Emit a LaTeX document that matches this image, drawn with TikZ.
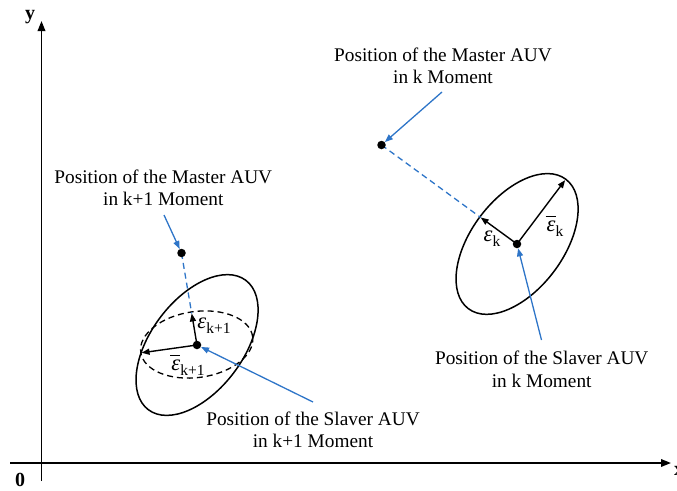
\documentclass[tikz,border=0pt]{standalone}
\usepackage{fontspec}
\setmainfont{Liberation Serif}
\usetikzlibrary{arrows.meta,calc}
\definecolor{auvblue}{RGB}{46,117,200}
\newcommand\epsit{{\itshape ε}}
\newcommand\epsbarit{\hbox{\itshape ε}\llap{\rule[0.62em]{0.44em}{0.07em}}}
\newcommand\subk[1]{\raisebox{-0.5ex}{\fontsize{15.5}{16}\selectfont #1}}
\begin{document}
\begin{tikzpicture}[x=1pt,y=1pt,
  every node/.style={font=\fontsize{19.3}{22.5}\selectfont},
  lbl/.style={align=center, inner sep=0pt},
  epslbl/.style={inner sep=0pt, font=\fontsize{22.5}{24}\selectfont},
  dotnode/.style={circle, fill=black, inner sep=0pt, minimum size=8.5pt},
  axisline/.style={line width=1.8pt, -{Triangle[length=10pt,width=7.5pt]}},
  bluearrow/.style={auvblue, line width=1.3pt, -{Triangle[length=8pt,width=6pt]}},
  bluedash/.style={auvblue, line width=1.3pt, dash pattern=on 6pt off 4pt},
  errarrow/.style={line width=1.4pt, -{Triangle[length=8pt,width=6pt]}},
  ell/.style={line width=1.5pt},
  dashell/.style={line width=1.3pt, dash pattern=on 6pt off 4pt},
  axlabel/.style={font=\fontsize{20}{20}\selectfont\bfseries, inner sep=0pt}]
\useasboundingbox (0,0) rectangle (677,-490);
% axes
\coordinate (yb) at (41.5,-481);
\coordinate (yt) at (41.5,-21);
\coordinate (xl) at (10,-463);
\coordinate (xr) at (671,-463);
\draw[axisline] (yb) -- (yt);
\draw[axisline] (xl) -- (xr);
\node[axlabel] (ylab) at (30,-17) {y};
\node[axlabel] (olab) at (20,-480) {0};
\node[axlabel] (xlab) at (679,-471) {x};
% positions
\coordinate (mkc) at (381.5,-145);
\coordinate (mk1c) at (181.5,-253);
\coordinate (skc) at (517,-244);
\coordinate (sk1c) at (197,-345);
% ellipses
\draw[ell, rotate around={53:(skc)}] (skc) ellipse [x radius=81, y radius=46];
\draw[ell, rotate around={53:(sk1c)}] (sk1c) ellipse [x radius=81, y radius=46];
\draw[dashell, rotate around={8:(196.7,-344.5)}] (196.7,-344.5) ellipse [x radius=56.5, y radius=33];
% error vectors
\coordinate (ektip) at ($(skc)!45pt!(mkc)$);
\coordinate (ebktip) at ($(skc)+(53:80)$);
\coordinate (ek1tip) at ($(sk1c)!32pt!(mk1c)$);
\coordinate (ebk1tip) at ($(sk1c)+(188:56)$);
\draw[bluedash] (mkc) -- (ektip);
\draw[bluedash] (mk1c) -- (ek1tip);
\draw[errarrow] (skc) -- (ektip);
\draw[errarrow] (skc) -- (ebktip);
\draw[errarrow] (sk1c) -- (ek1tip);
\draw[errarrow] (sk1c) -- (ebk1tip);
% dots
\node[dotnode] (mk) at (mkc) {};
\node[dotnode] (mk1) at (mk1c) {};
\node[dotnode] (sk) at (skc) {};
\node[dotnode] (sk1) at (sk1c) {};
% labels
\node[lbl] (tmk) at (443,-66) {Position of the Master AUV\\in k Moment};
\node[lbl] (tmk1) at (163.3,-188) {Position of the Master AUV\\in k+1 Moment};
\node[lbl] (tsk1) at (313,-430) {Position of the Slaver AUV\\in k+1 Moment};
\node[lbl] (tsk) at (541.7,-369.5) {Position of the Slaver AUV\\in k Moment};
\node[epslbl] (lek) at (492,-239) {\epsit\subk{k}};
\node[epslbl] (lebk) at (555,-226) {\epsbarit\subk{k}};
\node[epslbl] (lek1) at (214,-326) {\epsit\subk{k+1}};
\node[epslbl] (lebk1) at (188,-365) {\epsbarit\subk{k+1}};
% blue pointers
\coordinate (amk) at (442,-92);
\coordinate (amk1) at (164,-215);
\coordinate (ask1) at (313,-402);
\coordinate (ask) at (541.5,-340);
\draw[bluearrow] (amk) -- (mk);
\draw[bluearrow] (amk1) -- (mk1);
\draw[bluearrow] (ask1) -- (sk1);
\draw[bluearrow] (ask) -- (sk);
\end{tikzpicture}
\end{document}
